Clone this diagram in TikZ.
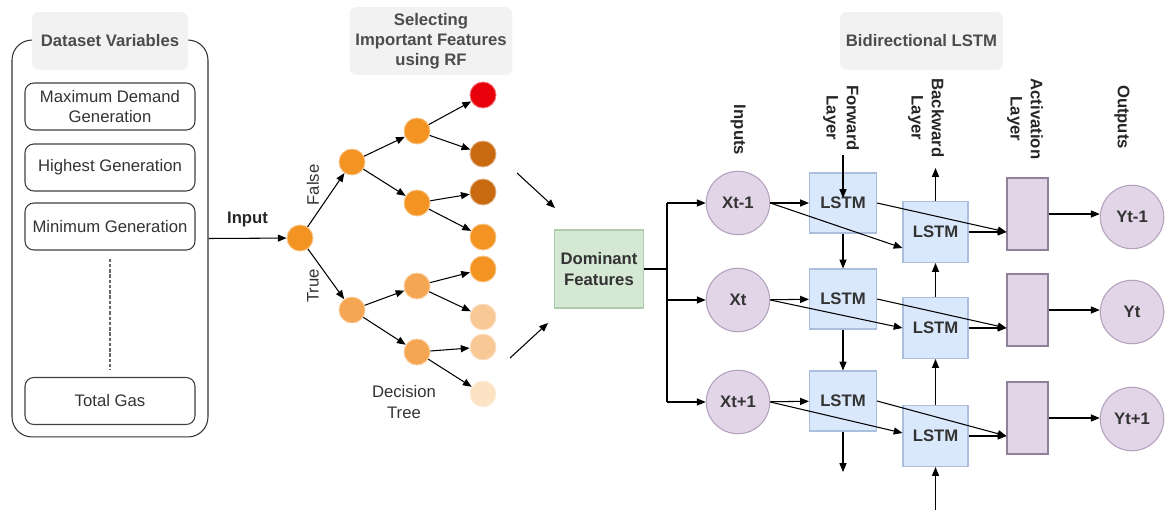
\documentclass[tikz,border=0pt]{standalone}
\usepackage{fontspec}
\setmainfont{Liberation Sans}
\usetikzlibrary{arrows.meta,calc}
\definecolor{titlegray}{HTML}{F2F2F2}
\definecolor{orangeA}{HTML}{F39322}
\definecolor{orangeB}{HTML}{F5A653}
\definecolor{leafRed}{HTML}{E8000B}
\definecolor{leafDark}{HTML}{C96A10}
\definecolor{leafPale}{HTML}{F8C895}
\definecolor{leafCream}{HTML}{FCE3C3}
\definecolor{ioFill}{HTML}{E1D5E7}
\definecolor{ioDraw}{HTML}{B3A1BD}
\definecolor{lstmFill}{HTML}{DAE8FC}
\definecolor{lstmDraw}{HTML}{A9BFDD}
\definecolor{dfFill}{HTML}{D5E8D4}
\definecolor{dfDraw}{HTML}{AFCBAB}

\begin{document}
\begin{tikzpicture}
  [x=0.02cm,y=-0.02cm, >={Triangle[length=5pt,width=4pt]}, line width=0.6pt,
   every node/.style={font=\fontsize{9.5}{11.5}\selectfont, text=black!80},
   title/.style={fill=titlegray, rounded corners=4pt, minimum width=3.14cm, minimum height=1.16cm, align=center, text=black!70, font=\bfseries\fontsize{9.5}{11.5}\selectfont},
   varitem/.style={draw=black!75, fill=white, rounded corners=5pt, minimum width=3.4cm, minimum height=0.94cm, align=center},
   treenode/.style={circle, minimum size=0.52cm, inner sep=0pt, fill=#1, draw=#1!55!white, line width=0.5pt},
   io/.style={circle, fill=ioFill, draw=ioDraw, minimum size=1.27cm, inner sep=0pt, font=\bfseries\fontsize{9.5}{11.5}\selectfont},
   lstm/.style={fill=lstmFill, draw=lstmDraw, minimum width=1.34cm, minimum height=1.2cm, font=\bfseries\fontsize{9.5}{11.5}\selectfont},
   act/.style={fill=ioFill, draw=ioDraw!80!black, minimum width=0.82cm, minimum height=1.44cm},
   layer/.style={rotate=-90, align=center, text=black!85, font=\bfseries\fontsize{9.5}{11.5}\selectfont}]

  \useasboundingbox (0,0) rectangle (1165,510);

  % dataset variables
  \node[draw=black!80, rounded corners=0.4cm, minimum width=3.92cm, minimum height=7.94cm] (vars) at (110,238.5) {};
  \node[title, minimum width=3.12cm] (tvars) at (110,41) {Dataset Variables};
  \node[varitem] (v1) at (110,106.5) {Maximum Demand\\Generation};
  \node[varitem] (v2) at (110,167.5) {Highest Generation};
  \node[varitem] (v3) at (110,226.5) {Minimum Generation};
  \node[varitem] (v4) at (110,401) {Total Gas};
  \draw[dash pattern=on 2pt off 1pt, black!60, shorten <=0.16cm, shorten >=0.14cm] (v3) -- (v4);

  % random forest tree
  \node[title, minimum width=3.16cm] (trf) at (431,41) {Selecting\\Important Features\\using RF};
  \node[treenode=orangeA] (t0) at (300,238) {};
  \node[treenode=orangeA] (f1) at (352,162) {};
  \node[treenode=orangeA] (f2) at (417,131) {};
  \node[treenode=orangeA] (f3) at (417,203) {};
  \node[treenode=leafRed] (l1) at (483,95) {};
  \node[treenode=leafDark] (l2) at (483,154) {};
  \node[treenode=leafDark] (l3) at (483,192) {};
  \node[treenode=orangeA] (l4) at (483,237) {};
  \node[treenode=orangeB] (r1) at (352,310) {};
  \node[treenode=orangeB] (r2) at (417,286) {};
  \node[treenode=orangeB] (r3) at (417,352) {};
  \node[treenode=orangeA] (l5) at (483,269) {};
  \node[treenode=leafPale] (l6) at (483,317) {};
  \node[treenode=leafPale] (l7) at (483,347) {};
  \node[treenode=leafCream] (l8) at (483,394) {};

  \draw[->] (vars.east) -- node[above=3pt, font=\bfseries\fontsize{9.5}{11.5}\selectfont, text=black!85] {Input} (t0);
  \draw[->] (t0) -- (f1);
  \draw[->] (t0) -- (r1);
  \draw[->] (f1) -- (f2);
  \draw[->] (f1) -- (f3);
  \draw[->] (f2) -- (l1);
  \draw[->] (f2) -- (l2);
  \draw[->] (f3) -- (l3);
  \draw[->] (f3) -- (l4);
  \draw[->] (r1) -- (r2);
  \draw[->] (r1) -- (r3);
  \draw[->] (r2) -- (l5);
  \draw[->] (r2) -- (l6);
  \draw[->] (r3) -- (l7);
  \draw[->] (r3) -- (l8);
  \node[rotate=90] (lfalse) at (313,185) {False};
  \node[rotate=90] (ltrue) at (313,286) {True};
  \node[align=center] (ldt) at (404,402) {Decision\\Tree};

  % dominant features
  \coordinate (p1) at (517,173);
  \coordinate (p2) at (555,208);
  \coordinate (p3) at (510,358);
  \coordinate (p4) at (548,323);
  \draw[->] (p1) -- (p2);
  \draw[->] (p3) -- (p4);
  \node[fill=dfFill, draw=dfDraw, minimum width=1.72cm, minimum height=1.56cm, align=center, font=\bfseries\fontsize{9.5}{11.5}\selectfont] (df) at (599,269) {Dominant\\Features};

  % bidirectional lstm
  \node[title, minimum width=3.14cm] (tbi) at (921.5,41) {Bidirectional LSTM};
  \node[io] (x1) at (738,203) {Xt-1};
  \node[io] (x2) at (738,300) {Xt};
  \node[io] (x3) at (738,402) {Xt+1};
  \node[lstm] (fw1) at (843,203) {LSTM};
  \node[lstm] (fw2) at (843,299) {LSTM};
  \node[lstm] (fw3) at (843,401) {LSTM};
  \node[lstm, minimum width=1.3cm, minimum height=1.22cm] (bw1) at (935.5,232) {LSTM};
  \node[lstm, minimum width=1.3cm, minimum height=1.22cm] (bw2) at (935.5,328) {LSTM};
  \node[lstm, minimum width=1.3cm, minimum height=1.22cm] (bw3) at (935.5,436) {LSTM};
  \node[act] (a1) at (1027.5,214) {};
  \node[act] (a2) at (1027.5,310) {};
  \node[act] (a3) at (1027.5,418) {};
  \node[io] (y1) at (1132,217) {Yt-1};
  \node[io] (y2) at (1132,312) {Yt};
  \node[io] (y3) at (1132,419) {Yt+1};

  \node[layer] (lin) at (738,130) {Inputs};
  \node[layer] (lfw) at (841,118) {Forward\\Layer};
  \node[layer] (lbw) at (926,118) {Backward\\Layer};
  \node[layer] (lact) at (1025,119) {Activation\\Layer};
  \node[layer] (lout) at (1122,117) {Outputs};

  \coordinate (bus) at (667,0);
  \draw (df.east) -- (df.east -| bus);
  \draw (bus |- x1) -- (bus |- x3);
  \draw[->] (bus |- x1) -- (x1);
  \draw[->] (bus |- x2) -- (x2);
  \draw[->] (bus |- x3) -- (x3);

  \draw[->] (x1) -- (fw1);
  \draw[->] (x2) -- (fw2);
  \draw[->] (x3) -- (fw3);
  \draw[->] (x1.east) -- ($(bw1.west)+(0,16)$);
  \draw[->] (x2.east) -- (bw2.west);
  \draw[->] (x3.east) -- ($(bw3.west)+(0,-3)$);

  \coordinate (fwin) at (843,155);
  \coordinate (fwtip) at (843,198);
  \coordinate (fwout) at (843,472);
  \draw[->] (fwin) -- (fwtip);
  \draw[->] (fw1.south) -- (fw2.north);
  \draw[->] (fw2.south) -- (fw3.north);
  \draw[->] (fw3.south) -- (fwout);

  \coordinate (bwin) at (935.5,510);
  \coordinate (bwout) at (935.5,168);
  \draw[->] (bwin) -- (bw3.south);
  \draw[->] (bw3.north) -- (bw2.south);
  \draw[->] (bw2.north) -- (bw1.south);
  \draw[->] (bw1.north) -- (bwout);

  \draw[->] (fw1.east) -- (a1.west |- bw1);
  \draw[->] (fw2.east) -- (a2.west |- bw2);
  \draw[->] (fw3.east) -- (a3.west |- bw3);
  \draw[->] (bw1.east) -- (a1.west |- bw1);
  \draw[->] (bw2.east) -- (a2.west |- bw2);
  \draw[->] (bw3.east) -- (a3.west |- bw3);

  \draw[->] (a1.east) -- (a1.east -| y1.west);
  \draw[->] (a2.east) -- (a2.east -| y2.west);
  \draw[->] (a3.east) -- (a3.east -| y3.west);

\end{tikzpicture}
\end{document}
